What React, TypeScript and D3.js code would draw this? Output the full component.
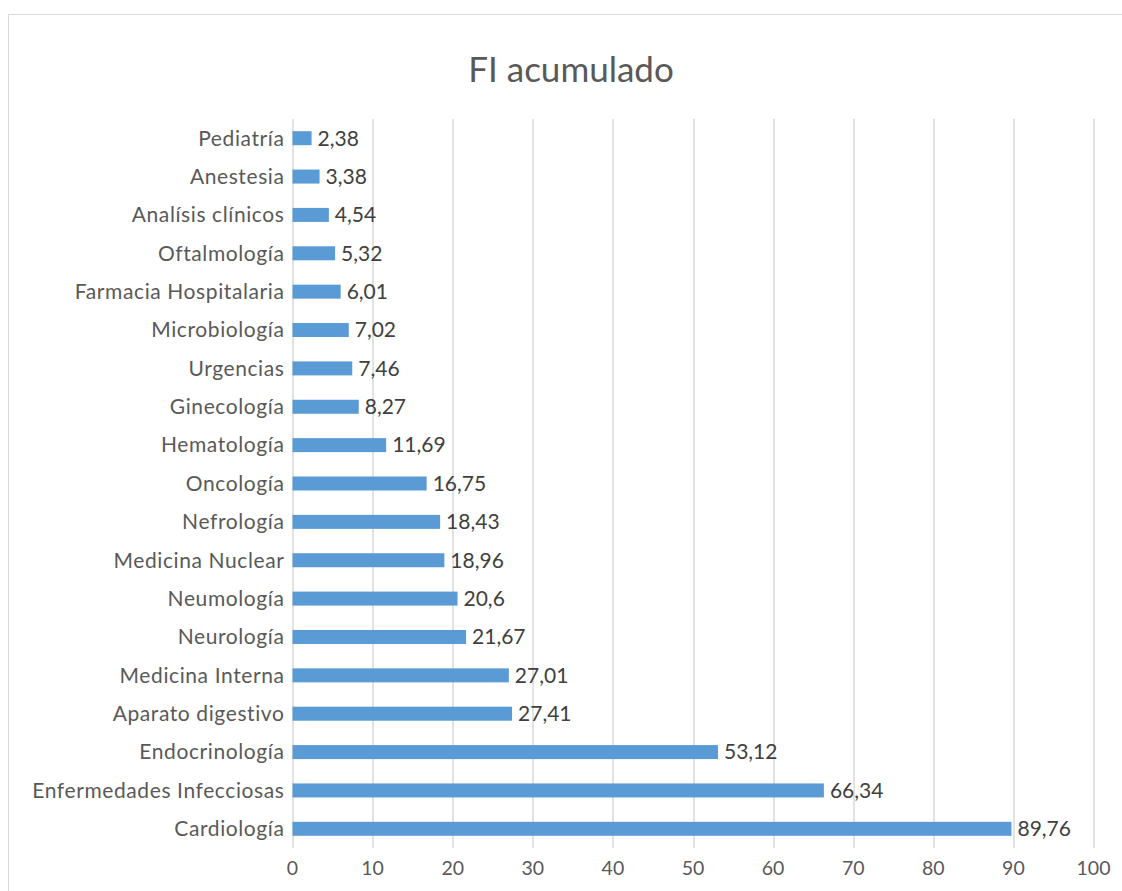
import React, { useEffect, useRef } from 'react';
import * as d3 from 'd3';

// categories top -> bottom as they appear in the chart
const categories = [
  'Pediatría',
  'Anestesia',
  'Analísis clínicos',
  'Oftalmología',
  'Farmacia Hospitalaria',
  'Microbiología',
  'Urgencias',
  'Ginecología',
  'Hematología',
  'Oncología',
  'Nefrología',
  'Medicina Nuclear',
  'Neumología',
  'Neurología',
  'Medicina Interna',
  'Aparato digestivo',
  'Endocrinología',
  'Enfermedades Infecciosas',
  'Cardiología',
];

const values = [
  2.38, 3.38, 4.54, 5.32, 6.01, 7.02, 7.46, 8.27, 11.69, 16.75, 18.43, 18.96,
  20.6, 21.67, 27.01, 27.41, 53.12, 66.34, 89.76,
];

const xTicks = [0, 10, 20, 30, 40, 50, 60, 70, 80, 90, 100];

const title = 'FI acumulado';

const W = 1122;
const H = 891;
const FONT = "Lato, 'Open Sans', sans-serif";

export default function App() {
  const ref = useRef<SVGSVGElement>(null);

  useEffect(() => {
    const svg = d3.select(ref.current);
    svg.selectAll('*').remove();

    const margin = { top: 119, right: 28.5, bottom: 43, left: 292.5 };
    const width = W - margin.left - margin.right;
    const height = H - margin.top - margin.bottom;

    // chart frame
    svg
      .append('rect')
      .attr('x', 8.5)
      .attr('y', 14.5)
      .attr('width', W + 20)
      .attr('height', H + 20)
      .attr('fill', '#fff')
      .attr('stroke', '#d9d9d9');

    svg
      .append('text')
      .attr('x', 571)
      .attr('y', 82)
      .attr('text-anchor', 'middle')
      .attr('font-family', FONT)
      .attr('font-size', 35)
      .attr('fill', '#595959')
      .text(title);

    const g = svg
      .append('g')
      .attr('transform', `translate(${margin.left}, ${margin.top})`);

    const x = d3.scaleLinear().domain([0, 100]).range([0, width]);
    const y = d3
      .scaleBand()
      .domain(categories)
      .range([0, height])
      .paddingInner(0.635)
      .paddingOuter(0.3175);

    // gridlines
    g.append('g')
      .selectAll('line')
      .data(xTicks)
      .enter()
      .append('line')
      .attr('x1', (d) => Math.round(x(d)) + 0.5)
      .attr('x2', (d) => Math.round(x(d)) + 0.5)
      .attr('y1', 0)
      .attr('y2', height)
      .attr('stroke', '#d9d9d9')
      .attr('stroke-width', 1.5);

    // tick labels
    g.append('g')
      .selectAll('text')
      .data(xTicks)
      .enter()
      .append('text')
      .attr('x', (d) => x(d))
      .attr('y', height + 27)
      .attr('text-anchor', 'middle')
      .attr('font-family', FONT)
      .attr('font-size', 19.5)
      .attr('fill', '#595959')
      .text((d) => d);

    // category labels
    g.append('g')
      .selectAll('text')
      .data(categories)
      .enter()
      .append('text')
      .attr('x', -8)
      .attr('y', (d) => (y(d) as number) + y.bandwidth() / 2)
      .attr('dy', '0.35em')
      .attr('text-anchor', 'end')
      .attr('font-family', FONT)
      .attr('font-size', 21)
      .attr('letter-spacing', 0.6)
      .attr('fill', '#595959')
      .text((d) => d);

    // bars
    g.append('g')
      .selectAll('rect')
      .data(values)
      .enter()
      .append('rect')
      .attr('x', x(0))
      .attr('y', (d, i) => y(categories[i]) as number)
      .attr('width', (d) => x(d) - x(0))
      .attr('height', y.bandwidth())
      .attr('fill', '#5b9bd5');

    // value labels
    g.append('g')
      .selectAll('text')
      .data(values)
      .enter()
      .append('text')
      .attr('x', (d) => x(d) + 6)
      .attr('y', (d, i) => (y(categories[i]) as number) + y.bandwidth() / 2)
      .attr('dy', '0.35em')
      .attr('font-family', FONT)
      .attr('font-size', 21)
      .attr('fill', '#404040')
      .text((d) => String(d).replace('.', ','));
  }, []);

  return (
    <div style={{ position: 'absolute', left: 0, top: 0 }}>
      <svg ref={ref} width={W} height={H} style={{ display: 'block' }} />
    </div>
  );
}
